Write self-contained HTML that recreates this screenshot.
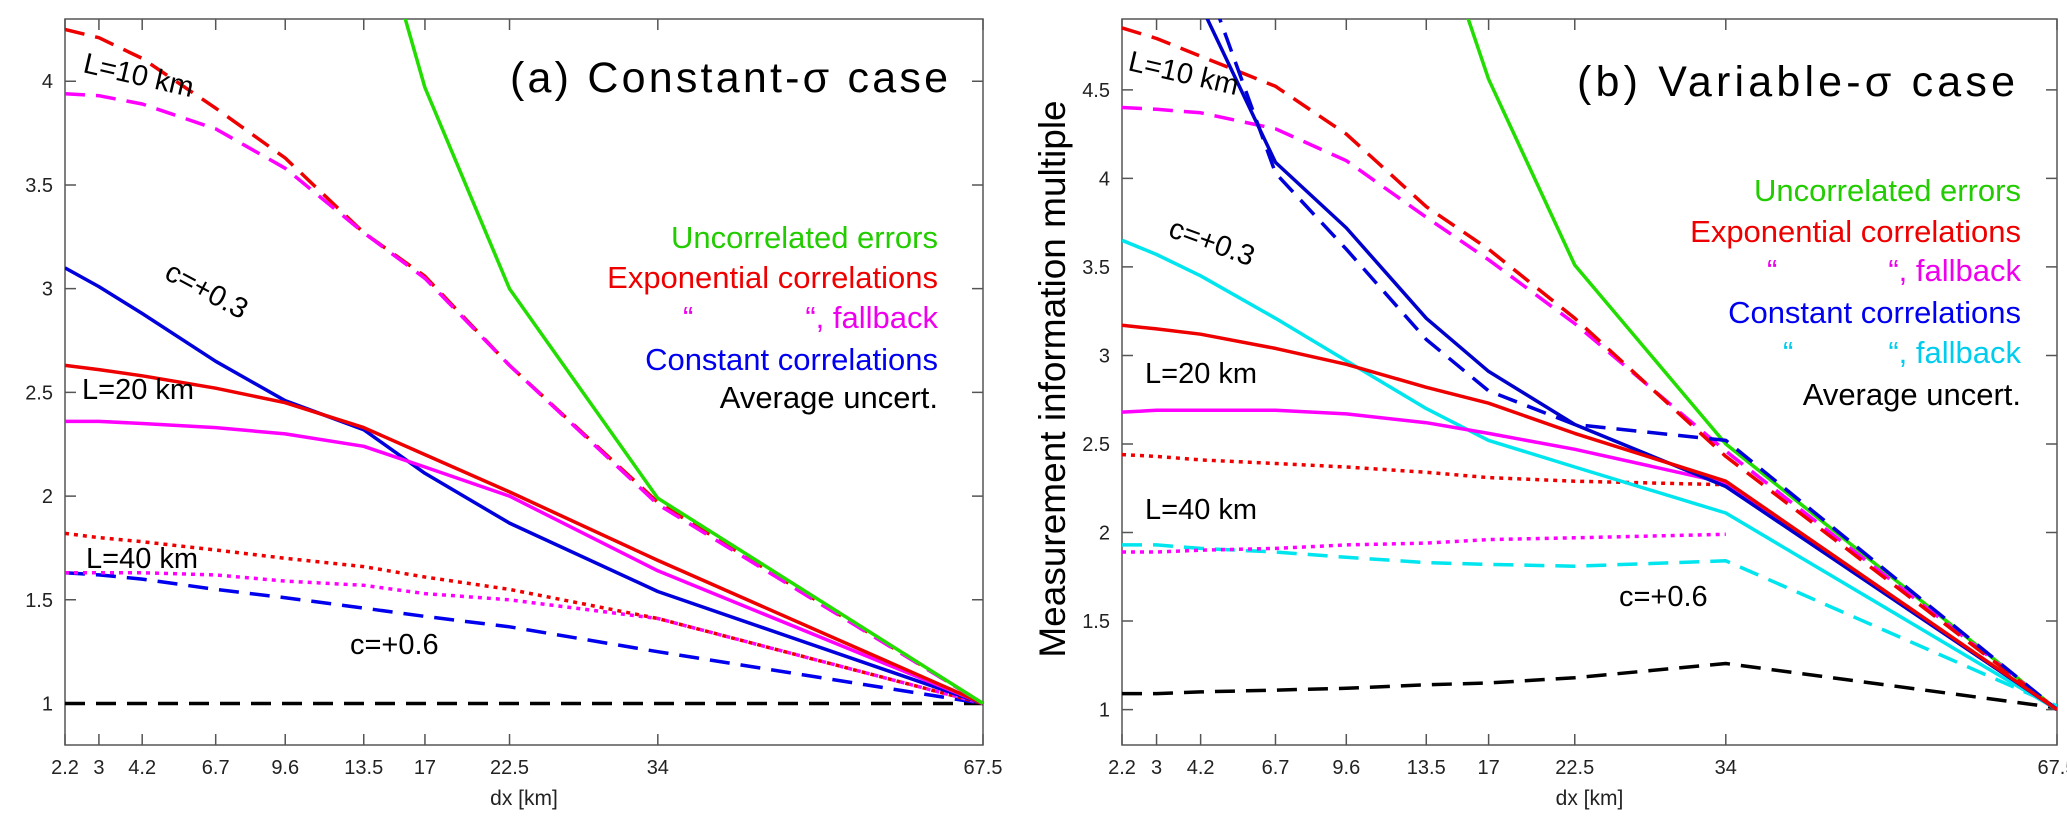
<!DOCTYPE html>
<html><head><meta charset="utf-8"><style>
html,body{margin:0;padding:0;background:#fff;}
svg{display:block;font-family:"Liberation Sans",sans-serif;}
</style></head><body>
<svg id="fig" width="2067" height="833" viewBox="0 0 2067 833" xmlns="http://www.w3.org/2000/svg">
<defs>
<clipPath id="clipA"><rect x="65" y="19" width="918" height="726"/></clipPath>
<clipPath id="clipB"><rect x="1122" y="19" width="935" height="726"/></clipPath>
</defs>
<g id="panelA"></g>
<g id="panelB"></g>
</svg>
<script>
const dxTicks = [2.2, 3, 4.2, 6.7, 9.6, 13.5, 17, 22.5, 34, 67.5];
const yTicksA = [1, 1.5, 2, 2.5, 3, 3.5, 4];
const yTicksB = [1, 1.5, 2, 2.5, 3, 3.5, 4, 4.5];

// Panel (a) series, values at dxTicks
const aUncorr   = [30.7, 22.5, 16.1, 10.1, 7.03, 5.0, 3.97, 3.0, 1.99, 1];
const aExpL10   = [4.25, 4.21, 4.11, 3.87, 3.63, 3.27, 3.06, 2.63, 1.97, 1];
const aExpL10fb = [3.94, 3.93, 3.89, 3.77, 3.58, 3.27, 3.05, 2.63, 1.96, 1];
const aConst03  = [3.10, 3.01, 2.88, 2.65, 2.46, 2.32, 2.11, 1.87, 1.54, 1];
const aExpL20   = [2.63, 2.61, 2.58, 2.52, 2.45, 2.33, 2.20, 2.02, 1.69, 1];
const aExpL20fb = [2.36, 2.36, 2.35, 2.33, 2.30, 2.24, 2.14, 2.00, 1.64, 1];
const aExpL40   = [1.82, 1.80, 1.78, 1.74, 1.70, 1.66, 1.61, 1.55, 1.41, 1];
const aExpL40fb = [1.63, 1.63, 1.63, 1.62, 1.59, 1.57, 1.53, 1.50, 1.41, 1];
const aConst06  = [1.63, 1.62, 1.60, 1.55, 1.51, 1.46, 1.42, 1.37, 1.25, 1];
const aAvg      = [1, 1, 1, 1, 1, 1, 1, 1, 1, 1];

// Panel (b) series
const bUncorr   = [20, 15, 11, 8.5, 7.0, 5.6, 4.56, 3.51, 2.50, 1];
const bExpL10   = [4.85, 4.79, 4.69, 4.52, 4.25, 3.84, 3.60, 3.21, 2.43, 1];
const bExpL10fb = [4.40, 4.39, 4.37, 4.28, 4.10, 3.78, 3.54, 3.18, 2.46, 1];
const bConst03  = [7.0, 6.0, 4.98, 4.09, 3.72, 3.21, 2.91, 2.61, 2.26, 1];
const bConst03fb= [7.2, 6.2, 5.2, 4.03, 3.60, 3.09, 2.80, 2.61, 2.52, 1];
const bCyan03   = [3.65, 3.57, 3.45, 3.21, 2.97, 2.70, 2.52, 2.37, 2.11, 1];
const bExpL20   = [3.17, 3.15, 3.12, 3.04, 2.95, 2.82, 2.73, 2.56, 2.29, 1];
const bExpL20fb = [2.68, 2.69, 2.69, 2.69, 2.67, 2.62, 2.56, 2.47, 2.28, 1];
const bExpL40   = [2.44, 2.43, 2.41, 2.39, 2.37, 2.34, 2.31, 2.29, 2.27, 1];
const bExpL40fb = [1.89, 1.89, 1.90, 1.91, 1.93, 1.94, 1.96, 1.97, 1.99, null];
const bCyan06   = [1.93, 1.93, 1.91, 1.89, 1.86, 1.83, 1.82, 1.81, 1.84, 1.02];
const bAvg      = [1.09, 1.09, 1.10, 1.11, 1.12, 1.14, 1.15, 1.18, 1.26, 1.01];

const NS = "http://www.w3.org/2000/svg";
function mk(tag, attrs, parent){ const e=document.createElementNS(NS,tag); for(const k in attrs) e.setAttribute(k,attrs[k]); parent.appendChild(e); return e; }

function makeAxes(cfg){
  const sx = v => cfg.x0 + (Math.sqrt(v)-Math.sqrt(2.2))/(Math.sqrt(67.5)-Math.sqrt(2.2))*(cfg.x1-cfg.x0);
  const sy = v => cfg.y1 - (v-cfg.ymin)/(cfg.ymax-cfg.ymin)*(cfg.y1-cfg.y0);
  return {sx, sy};
}

function drawPanel(g, cfg, yTicks, series){
  const {sx, sy} = makeAxes(cfg);
  const frame = mk('rect',{x:cfg.x0,y:cfg.y0,width:cfg.x1-cfg.x0,height:cfg.y1-cfg.y0,fill:'none',stroke:'#555','stroke-width':1.5},g);
  
  
  dxTicks.forEach(t=>{
    const x=sx(t);
    const tk=mk('path',{d:`M${x},${cfg.y1}v-11M${x},${cfg.y0}v11`,stroke:'#555','stroke-width':1.5},g);
    
    
    const lb=mk('text',{x:x,y:cfg.y1+29,'text-anchor':'middle','font-size':20,fill:'#222'},g);
    lb.textContent=String(t);
    
    
  });
  yTicks.forEach(t=>{
    const y=sy(t);
    const tk=mk('path',{d:`M${cfg.x0},${y}h11M${cfg.x1},${y}h-11`,stroke:'#555','stroke-width':1.5},g);
    
    
    const lb=mk('text',{x:cfg.x0-12,y:y+7,'text-anchor':'end','font-size':20,fill:'#222'},g);
    lb.textContent=String(t);
    
    
  });
  const xl=mk('text',{x:(cfg.x0+cfg.x1)/2,y:cfg.y1+60,'text-anchor':'middle','font-size':21,fill:'#222'},g);
  xl.textContent='dx [km]';
  
  
  const lg=mk('g',{'clip-path':`url(#${cfg.clip})`},g);
  series.forEach(s=>{
    let d='';
    s.vals.forEach((v,i)=>{ if(v===null) return; d += (d===''?'M':'L') + sx(dxTicks[i]).toFixed(1)+','+sy(v).toFixed(1); });
    const attrs={d:d,fill:'none',stroke:s.color,'stroke-width':3.5,'stroke-linejoin':'round'};
    if(s.dash) attrs['stroke-dasharray']=s.dash;
    const p=mk('path',attrs,lg);
    
    
  });
}

const DASH='20 11', DOT='4 5';
const cfgA={x0:65,x1:983,y0:19,y1:745,ymin:0.8,ymax:4.3,clip:'clipA'};
const cfgB={x0:1122,x1:2057,y0:19,y1:745,ymin:0.8,ymax:4.9,clip:'clipB'};

drawPanel(document.getElementById('panelA'), cfgA, yTicksA, [
  {name:'line-average-uncert',vals:aAvg,color:'#000',dash:DASH},
  {name:'line-constant-c06',vals:aConst06,color:'#0000ee',dash:DASH},
  {name:'line-exp-l40',vals:aExpL40,color:'#ee0000',dash:DOT},
  {name:'line-exp-l40-fallback',vals:aExpL40fb,color:'#ff00ff',dash:DOT},
  {name:'line-constant-c03',vals:aConst03,color:'#0000dd'},
  {name:'line-exp-l20-fallback',vals:aExpL20fb,color:'#ff00ff'},
  {name:'line-exp-l20',vals:aExpL20,color:'#ee0000'},
  {name:'line-exp-l10',vals:aExpL10,color:'#ee0000',dash:DASH},
  {name:'line-exp-l10-fallback',vals:aExpL10fb,color:'#ff00ff',dash:DASH},
  {name:'line-uncorrelated',vals:aUncorr,color:'#22dd00'}
]);
drawPanel(document.getElementById('panelB'), cfgB, yTicksB, [
  {name:'line-average-uncert',vals:bAvg,color:'#000',dash:DASH},
  {name:'line-constant-c06-fallback',vals:bCyan06,color:'#00e5ee',dash:DASH},
  {name:'line-exp-l40-fallback',vals:bExpL40fb,color:'#ff00ff',dash:DOT},
  {name:'line-exp-l40',vals:bExpL40,color:'#ee0000',dash:DOT},
  {name:'line-constant-c03-fallback',vals:bCyan03,color:'#00e5ee'},
  {name:'line-exp-l20-fallback',vals:bExpL20fb,color:'#ff00ff'},
  {name:'line-uncorrelated',vals:bUncorr,color:'#22dd00'},
  {name:'line-exp-l10-fallback',vals:bExpL10fb,color:'#ff00ff',dash:DASH},
  {name:'line-exp-l10',vals:bExpL10,color:'#ee0000',dash:DASH},
  {name:'line-constant-c03-dashed',vals:bConst03fb,color:'#0000dd',dash:DASH},
  {name:'line-constant-c03',vals:bConst03,color:'#0000cc'},
  {name:'line-exp-l20',vals:bExpL20,color:'#ee0000'}
]);

function label(g, txt, x, y, size, color, anchor, rot, name, len){
  const t=mk('text',{x:x,y:y,'font-size':size,fill:color,'text-anchor':anchor||'start'},g);
  if(rot) t.setAttribute('transform',`rotate(${rot} ${x} ${y})`);
  if(len){ t.setAttribute('textLength',len); t.setAttribute('lengthAdjust','spacing'); }
  t.textContent=txt;
  
  
  return t;
}
const gA=document.getElementById('panelA'), gB=document.getElementById('panelB');
label(gA,'(a)   Constant-σ  case',510,92,43,'#000','start',0,'panel-a-title',438);
label(gA,'Uncorrelated errors',938,248,31,'#22cc00','end',0,'legend-uncorrelated');
label(gA,'Exponential correlations',938,288,31,'#ee0000','end',0,'legend-exponential');
label(gA,'“',683,328,31,'#ee00ee','start',0,'legend-quote');
label(gA,'“, fallback',938,328,31,'#ee00ee','end',0,'legend-exp-fallback');
label(gA,'Constant correlations',938,370,31,'#0000ee','end',0,'legend-constant');
label(gA,'Average uncert.',938,408,31,'#000','end',0,'legend-average');
label(gA,'L=10 km',82,72,29,'#000','start',13,'label-l10');
label(gA,'c=+0.3',163,278,29,'#000','start',28,'label-c03');
label(gA,'L=20 km',82,399,29,'#000','start',0,'label-l20');
label(gA,'L=40 km',86,568,29,'#000','start',0,'label-l40');
label(gA,'c=+0.6',350,654,29,'#000','start',0,'label-c06');

label(gB,'(b)   Variable-σ  case',1577,96,43,'#000','start',0,'panel-b-title',438);
label(gB,'Uncorrelated errors',2021,201,31,'#22cc00','end',0,'legend-uncorrelated');
label(gB,'Exponential correlations',2021,242,31,'#ee0000','end',0,'legend-exponential');
label(gB,'“',1767,281,31,'#ee00ee','start',0,'legend-quote');
label(gB,'“, fallback',2021,281,31,'#ee00ee','end',0,'legend-exp-fallback');
label(gB,'Constant correlations',2021,323,31,'#0000ee','end',0,'legend-constant');
label(gB,'“',1783,363,31,'#00ccee','start',0,'legend-quote-2');
label(gB,'“, fallback',2021,363,31,'#00ccee','end',0,'legend-const-fallback');
label(gB,'Average uncert.',2021,405,31,'#000','end',0,'legend-average');
label(gB,'L=10 km',1127,70,29,'#000','start',13,'label-l10');
label(gB,'c=+0.3',1167,236,29,'#000','start',20,'label-c03');
label(gB,'L=20 km',1145,383,29,'#000','start',0,'label-l20');
label(gB,'L=40 km',1145,519,29,'#000','start',0,'label-l40');
label(gB,'c=+0.6',1619,606,29,'#000','start',0,'label-c06');
label(gB,'Measurement information multiple',1065,379,37,'#000','middle',-90,'y-axis-title');
</script>
</body></html>
